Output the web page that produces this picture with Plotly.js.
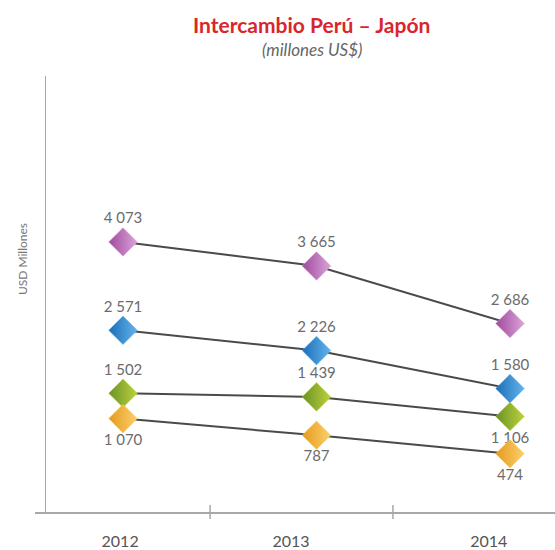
<!DOCTYPE html>
<html>
<head>
<meta charset="utf-8">
<script src="https://cdn.plot.ly/plotly-3.0.1.min.js"></script>
<style>html,body{margin:0;padding:0;background:#fff;}#chart{width:555px;height:550px;}</style>
</head>
<body>
<div id="chart"></div>
<script>
var years = [2012, 2013, 2014];
var yearLabels = ['2012', '2013', '2014'];
var seriesPurple = [4073, 3665, 2686];
var seriesBlue = [2571, 2226, 1580];
var seriesGreen = [1502, 1439, 1106];
var seriesOrange = [1070, 787, 474];

function fmt(v) { return String(v).replace(/\B(?=(\d{3})+(?!\d))/g, ' '); }

var FONT = 'Lato, "Open Sans", sans-serif';

function mk(vals, c1, c2, pos) {
  return {
    x: years, y: vals, type: 'scatter', mode: 'lines+markers+text',
    text: vals.map(fmt), textposition: pos,
    textfont: {family: FONT, size: 15, color: '#6b6b6b'},
    line: {color: '#4a4a4a', width: 2},
    marker: {symbol: 'diamond', size: 22, color: c1,
      gradient: {type: 'horizontal', color: c2},
      line: {color: c2, width: 0.5}},
    cliponaxis: false, hoverinfo: 'none', showlegend: false
  };
}

var traces = [
  mk(seriesPurple, '#9f4a9e', '#dca3d8', ['top center','top center','top center']),
  mk(seriesBlue, '#1c6fb8', '#63b3ea', ['top center','top center','top center']),
  mk(seriesGreen, '#6a9228', '#bcd23c', ['top center','top center','bottom center']),
  mk(seriesOrange, '#e69a1e', '#fbd06a', ['bottom center','bottom center','bottom center'])
];

// tick mark positions between categories
var sepTicks = [2012.45, 2013.395];
var shapes = sepTicks.map(function (t) {
  return {type: 'line', xref: 'x', yref: 'paper', x0: t, x1: t, y0: -0.016, y1: 0.016,
    line: {color: '#a8a8a8', width: 1.5}};
});

var layout = {
  width: 555, height: 550,
  margin: {l: 35, r: 0, t: 76, b: 38},
  paper_bgcolor: '#fff', plot_bgcolor: '#fff',
  font: {family: FONT},
  xaxis: {
    range: [2011.5452, 2014.2326], showgrid: false, zeroline: false,
    showline: true, linecolor: '#a8a8a8', linewidth: 1.5,
    tickmode: 'array', tickvals: [2011.985, 2012.868, 2013.89], ticktext: yearLabels,
    ticks: 'outside', ticklen: 14, tickcolor: 'rgba(0,0,0,0)',
    tickfont: {family: FONT, size: 16, color: '#555'}
  },
  yaxis: {
    range: [-517, 6893], showgrid: false, zeroline: false,
    showline: true, linecolor: '#a8a8a8', linewidth: 1.5,
    showticklabels: false, ticks: '',
    anchor: 'free', position: 0.01923
  },
  shapes: shapes,
  annotations: [
    {text: '<b>Intercambio Perú – Japón</b>', xref: 'paper', yref: 'paper', x: 0.532, y: 1, yshift: 52,
      showarrow: false, xanchor: 'center', yanchor: 'middle',
      font: {family: FONT, size: 21, color: '#d8262c'}},
    {text: '<i>(millones US$)</i>', xref: 'paper', yref: 'paper', x: 0.532, y: 1, yshift: 27,
      showarrow: false, xanchor: 'center', yanchor: 'middle',
      font: {family: FONT, size: 17, color: '#666'}},
    {text: 'USD Millones', xref: 'paper', yref: 'paper', x: 0, xshift: -13, y: 0.58,
      textangle: -90, showarrow: false, xanchor: 'center', yanchor: 'middle',
      font: {family: FONT, size: 12, color: '#777'}}
  ]
};

Plotly.newPlot('chart', traces, layout, {displayModeBar: false, staticPlot: true});
</script>
</body>
</html>
